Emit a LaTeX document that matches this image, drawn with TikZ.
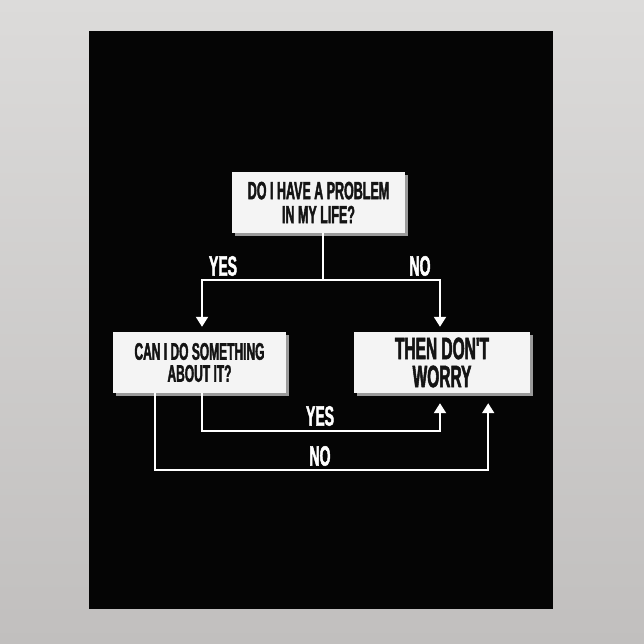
\documentclass[tikz,border=0pt]{standalone}
\usepackage{fontspec}
\newfontfamily\posterfont[FakeStretch=0.5, FakeBold=1.6]{Liberation Sans}
\usetikzlibrary{arrows.meta,shadows}
\definecolor{wallgray}{HTML}{DCDBDA}
\definecolor{wallshade}{HTML}{C1BFBE}
\definecolor{boxwhite}{HTML}{F4F4F4}
\definecolor{boxtext}{HTML}{141414}
\definecolor{shadowgray}{HTML}{9A9A9A}
\begin{document}
\begin{tikzpicture}[x=1pt, y=-1pt,
        box/.style={fill=boxwhite, text=boxtext, minimum width=173pt, minimum height=61pt,
            inner sep=0pt, align=center,
            drop shadow={shadow xshift=3pt, shadow yshift=-3pt, fill=shadowgray, opacity=1},
            font=\posterfont\bfseries\fontsize{24}{22}\selectfont},
        link/.style={draw=white, line width=2pt},
        tip/.style={-{Triangle[width=12pt, length=10pt]}},
        answer/.style={text=white, inner sep=0pt, font=\posterfont\bfseries\fontsize{28}{28}\selectfont}]
        \useasboundingbox (0,0) rectangle (644,644);
        \shade[top color=wallgray, bottom color=wallshade] (0,0) rectangle (644,644);
        \fill[black!98] (89,31) rectangle (553,609);

        \node[box, font=\posterfont\bfseries\fontsize{25}{24}\selectfont] (problem) at (318.5,202.5) {DO I HAVE A PROBLEM\\IN MY LIFE?};
        \node[box] (can) at (199.5,362.5) {CAN I DO SOMETHING\\ABOUT IT?};
        \node[box, minimum width=176pt, font=\posterfont\bfseries\fontsize{31}{28}\selectfont] (worry) at (442,362.5) {THEN DON'T\\WORRY};

        \coordinate (split) at (323,280);
        \coordinate (yesrun) at (320,431);
        \coordinate (norun) at (320,470);

        \node[answer] (yesleft) at (223,266) {YES};
        \node[answer] (noright) at (420,266) {NO};
        \node[answer] (yesbelow) at (320,416) {YES};
        \node[answer] (nobelow) at (320,456) {NO};

        \draw[link] (problem.south -| split) -- (split);
        \draw[link, tip, shorten >=5pt] (split) -| ([xshift=2.5pt]can.north);
        \draw[link, tip, shorten >=5pt] (split) -| ([xshift=-2pt]worry.north);
        \draw[link, tip, shorten >=10pt] ([xshift=2.5pt]can.south) |- (yesrun) -| ([xshift=-2pt]worry.south);
        \draw[link, tip, shorten >=10pt] ([xshift=42pt]can.south west) |- (norun) -| ([xshift=-42pt]worry.south east);
\end{tikzpicture}
\end{document}
